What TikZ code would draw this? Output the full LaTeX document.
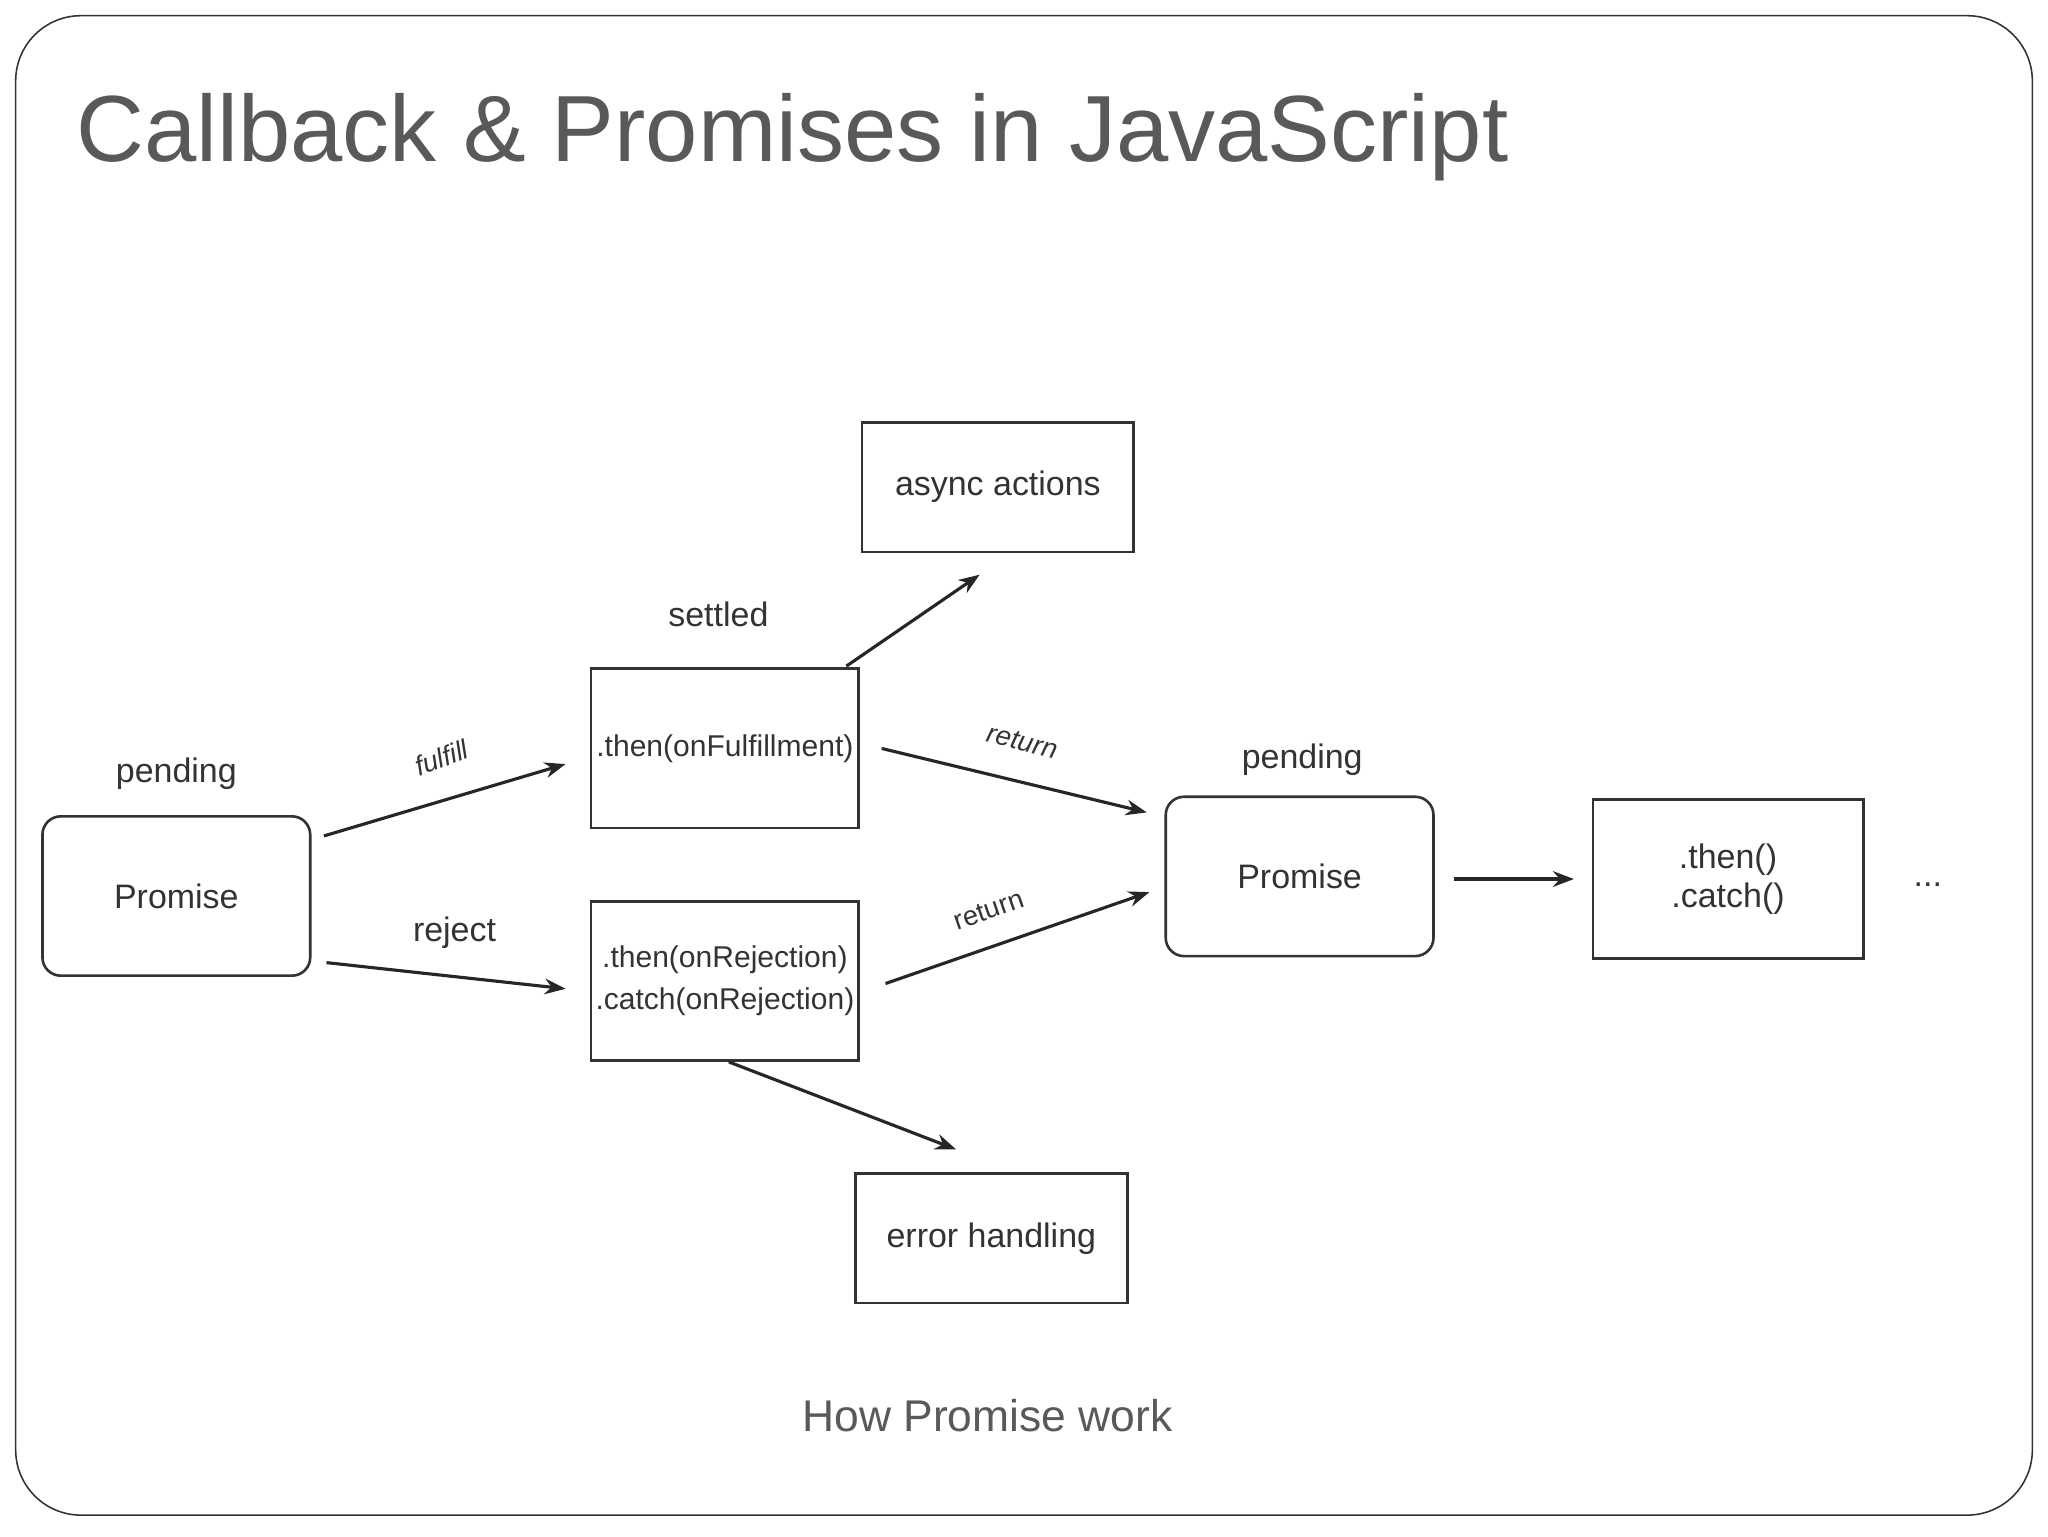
\documentclass[tikz,border=0pt]{standalone}
\usepackage{fontspec}
\setmainfont{Liberation Sans}
\usetikzlibrary{arrows.meta}
\begin{document}
\begin{tikzpicture}[x=1pt,y=-1pt,
  box/.style={draw=black!80,line width=2pt,minimum width=205pt,minimum height=122pt,font=\fontsize{26}{30}\selectfont,text=black!80,align=center,inner sep=0},
  rbox/.style={box,rounded corners=14pt},
  lbl/.style={font=\fontsize{26}{30}\selectfont,text=black!80},
  arr/.style={draw=black!85,line width=2.4pt,-{Stealth[length=16pt,width=12pt]}}]
\useasboundingbox (0,0) rectangle (1568,1176);
\draw[black!80,line width=1.2pt,rounded corners=50pt] (12,12) rectangle (1556,1160);
\node[anchor=base west,font=\fontsize{72}{78}\selectfont,text=black!65] (title) at (55,124) {Callback \& Promises in JavaScript};
% nodes
\node[rbox] (p1) at (135,686) {Promise};
\node[lbl] (pend1) at (135,592) {pending};
\node[box,font=\fontsize{23}{32}\selectfont] (then) at (555,573) {.then(onFulfillment)};
\node[lbl] (settled) at (550,470) {settled};
\node[box,font=\fontsize{23}{32}\selectfont] (catch) at (555,751) {.then(onRejection)\\.catch(onRejection)};
\node[box,minimum height=99pt,minimum width=208pt] (async) at (764,373) {async actions};
\node[box,minimum height=99pt,minimum width=208pt] (err) at (759,948) {error handling};
\node[rbox] (p2) at (995,671) {Promise};
\node[lbl] (pend2) at (997,582) {pending};
\node[box,minimum width=207pt] (tc) at (1323,673) {.then()\\.catch()};
\node[lbl] (dots) at (1476,677) {...};
\node[font=\fontsize{34}{38}\selectfont,text=black!65] (cap) at (756,1084) {How Promise work};
% arrow endpoints
\coordinate (a1) at (248,640); \coordinate (a2) at (433,585);
\coordinate (b1) at (250,737); \coordinate (b2) at (433,757);
\coordinate (c1) at (675,573); \coordinate (c2) at (878,622);
\coordinate (d1) at (678,753); \coordinate (d2) at (880,683);
\coordinate (e1) at (648,510); \coordinate (e2) at (750,440);
\coordinate (f1) at (558,813); \coordinate (f2) at (732,880);
\coordinate (g1) at (1113,673); \coordinate (g2) at (1205,673);
\draw[arr] (a1) -- (a2);
\draw[arr] (b1) -- (b2);
\draw[arr] (c1) -- (c2);
\draw[arr] (d1) -- (d2);
\draw[arr] (e1) -- (e2);
\draw[arr] (f1) -- (f2);
\draw[arr] (g1) -- (g2);
\node[lbl,rotate=20,inner sep=0,font=\fontsize{21}{24}\selectfont\itshape] (l1) at (338,580) {fulfill};
\node[lbl] (l2) at (348,714) {reject};
\node[lbl,rotate=-14,inner sep=0,font=\fontsize{21}{24}\selectfont\itshape] (l3) at (783,568) {return};
\node[lbl,rotate=19,inner sep=0,font=\fontsize{21}{24}\selectfont] (l4) at (757,697) {return};
\end{tikzpicture}
\end{document}
